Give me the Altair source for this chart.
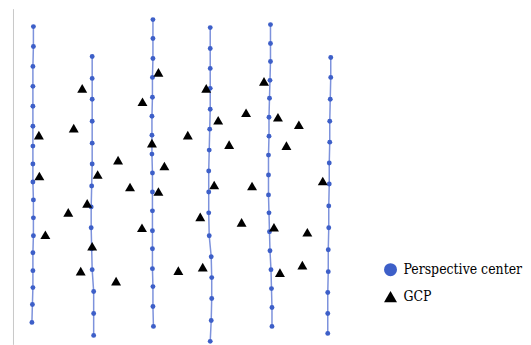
import altair as alt
import pandas as pd

# Flight lines (perspective centers): x and y positions per line
line1_x = [33.5,33.5,33,33,33,33,33,33,33,33.5,33.5,33.5,33,33,33,32.5,32]
line1_y = [26,46,66,86,106,126,146,164,182,200,218,236,253,271,288,305,323]
line2_x = [92.5,92.5,92.5,92.5,92.5,92.5,92,91.5,91.5,92,92.5,94,94,94]
line2_y = [56,78,99,121,143,164,186,207,228,249,270,292,314,336]
line3_x = [153.5,153.5,153.5,153,153,152.5,152.5,152.5,153,153,153,153,153,153,153.5,153.5,154]
line3_y = [19,38,58,77,97,116,135,154,173,192,211,231,249,269,287,307,327]
line4_x = [211,211,211,211,211,210.5,210,209.5,209.5,209.5,210,212,212.5,212.5,212,211]
line4_y = [27,48,68,88,109,129,150,171,192,213,236,257,278,299,321,342]
line5_x = [271.5,271.5,271.5,271,270.5,270,270,269.5,269.5,269.5,270,270.5,271,272,272.5,273,273]
line5_y = [24,43,61,80,98,117,136,155,175,195,213,232,251,270,289,308,327]
line6_x = [332,332,331.5,331,331,330.5,330.5,330,330,329.5,329.5,329,329,329]
line6_y = [57,77,99,121,142,163,184,206,228,250,272,293,314,334]

# Ground control points
gcp_x = [82.5,159,143,207,265,39,74,152.5,188.5,219,247,279,300,118.5,165,230,287.5,
         39.5,98,130.5,159,215,253,324,87.5,68.5,201,242.5,275,308.5,45.5,142.5,92.5,
         81,116.5,179,203.5,281,303.5]
gcp_y = [88,72,101.5,88,81,135,128,143,135,120,112.5,117,124.5,160,166,144.5,145.5,
         176,174.5,187,191.5,185,186,181,203.5,212.5,217,222.5,227.5,232.5,235,228,246.5,
         271.5,281.5,271,267.5,273,265.5]

legend_labels = ["Perspective center", "GCP"]

lines = [(line1_x, line1_y), (line2_x, line2_y), (line3_x, line3_y),
         (line4_x, line4_y), (line5_x, line5_y), (line6_x, line6_y)]
rows = []
for li, (xs, ys) in enumerate(lines):
    for i, (xv, yv) in enumerate(zip(xs, ys)):
        rows.append({"x": xv, "y": yv, "line": li, "idx": i, "type": legend_labels[0]})
pc = pd.DataFrame(rows)
gcp = pd.DataFrame({"x": gcp_x, "y": gcp_y, "type": legend_labels[1]})

X0 = 13
W = 505
x_scale = alt.Scale(domain=[X0, X0 + W], nice=False, zero=False)
y_scale = alt.Scale(domain=[8, 345], nice=False, zero=False, reverse=True)

color_scale = alt.Scale(domain=legend_labels, range=["#3d5fc8", "#000000"])
shape_scale = alt.Scale(domain=legend_labels, range=["circle", "triangle-up"])

SERIF = "DejaVu Serif Condensed"

legend = alt.Legend(title=None, orient="none", legendX=372, legendY=255,
                    labelFont=SERIF, labelFontSize=14, labelColor="black",
                    labelLimit=200,
                    symbolSize=170, rowPadding=13, labelOffset=6, padding=0,
                    symbolStrokeWidth=0)

xenc = alt.X("x:Q", scale=x_scale, axis=None)
yenc = alt.Y("y:Q", scale=y_scale,
             axis=alt.Axis(domain=True, domainColor="#c8c8c8", domainWidth=1,
                           ticks=False, labels=False, grid=False, title=None))

line_layer = alt.Chart(pc).mark_line(strokeWidth=1.5, color="#7d92dc").encode(
    x=xenc, y=yenc, detail="line:N", order="idx:Q")

pc_layer = alt.Chart(pc).mark_point(filled=True, size=24, opacity=1).encode(
    x=xenc, y=yenc,
    color=alt.Color("type:N", scale=color_scale, legend=legend),
    shape=alt.Shape("type:N", scale=shape_scale, legend=legend))

gcp_layer = alt.Chart(gcp).mark_point(filled=True, size=100, opacity=1).encode(
    x=xenc, y=yenc,
    color=alt.Color("type:N", scale=color_scale, legend=legend),
    shape=alt.Shape("type:N", scale=shape_scale, legend=legend))

chart = alt.layer(line_layer, pc_layer, gcp_layer).properties(
    width=W, height=337,
    background="white",
    padding={"left": 5, "top": 0, "right": 0, "bottom": 0}
).configure_view(strokeWidth=0).configure_legend(
    labelFont=SERIF, labelFontSize=14, labelColor="black")

chart.save("out.html", embed_options={"renderer": "svg", "actions": False})
